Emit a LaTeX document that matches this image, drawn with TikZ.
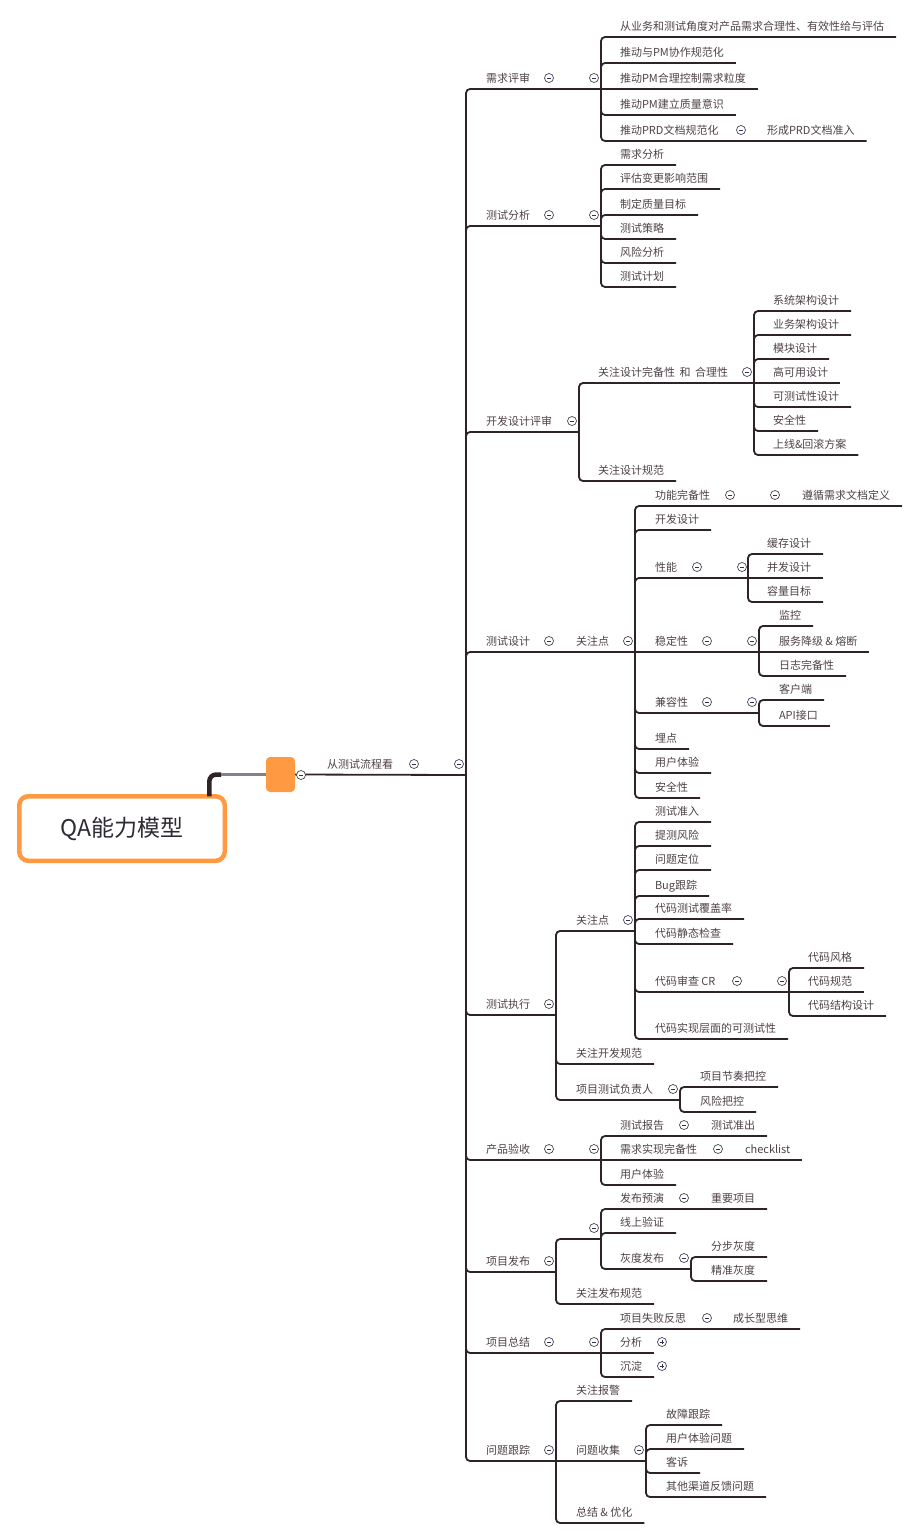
\documentclass[tikz,border=0pt]{standalone}
\usepackage{fontspec}
\setmainfont{Noto Sans CJK SC}
\definecolor{mmorange}{HTML}{FF9A42}
\definecolor{mmline}{HTML}{2E2329}
\definecolor{mmtext}{HTML}{4E4148}
\definecolor{mmtitle}{HTML}{2F2A33}
\definecolor{mmgrey}{HTML}{85808A}
\definecolor{mmfold}{HTML}{4A4450}
\definecolor{mmsign}{HTML}{2C3160}
\tikzset{
  topic/.style={anchor=south west, xshift=-12pt, inner xsep=12pt, inner ysep=0pt, outer sep=0pt,
    text height=15.2pt, text depth=6.8pt, text=mmtext, font=\fontsize{11}{13}\selectfont},
  link/.style={draw=mmline, line width=1.8pt, rounded corners=4pt},
  fold/.style={circle, draw=mmfold, line width=0.7pt, fill=white, minimum size=9pt, inner sep=0pt,
    path picture={\draw[mmsign, line width=0.8pt] ([xshift=-2.2pt]path picture bounding box.center)
      -- ([xshift=2.2pt]path picture bounding box.center);}},
  unfold/.style={circle, draw=mmfold, line width=0.7pt, fill=white, minimum size=9pt, inner sep=0pt,
    path picture={\draw[mmsign, line width=0.8pt] ([xshift=-2.2pt]path picture bounding box.center)
      -- ([xshift=2.2pt]path picture bounding box.center)
      ([yshift=-2.2pt]path picture bounding box.center) -- ([yshift=2.2pt]path picture bounding box.center);}},
  rootbox/.style={draw=mmorange, line width=4.5pt, rounded corners=9pt, fill=white, outer sep=0pt,
    minimum width=205.5pt, minimum height=64.5pt, text=mmtitle, font=\fontsize{23}{27}\selectfont},
  hub/.style={fill=mmorange, rounded corners=4pt, minimum width=29pt, minimum height=35pt, inner sep=0pt, outer sep=0pt}
}

\begin{document}
\begin{tikzpicture}[x=1pt, y=-1pt]
  \useasboundingbox (0,0) rectangle (920,1539);

  \node[rootbox] (root) at (122,828.5) {QA能力模型};
  \node[hub] (hub) at (280.5,774.5) {};
  \coordinate (bend) at (221,774.5);
  \draw[line width=4.5pt, mmline, rounded corners=7pt] ([xshift=-15.5pt]root.north east) |- (bend);
  \draw[line width=2.2pt, mmgrey] (bend) -- (hub.west);
  \node[topic] (flow) at (327,775) {从测试流程看};
  \coordinate (j0) at (466,775);
  \draw[link] (hub.east) -- (j0);
  \node[fold] (hub-f) at (301,775) {};
  \node[fold] (flow-f1) at (414,764) {};
  \node[fold] (flow-f2) at (459,764) {};

  \node[topic] (req) at (486,89) {需求评审};
  \node[topic] (ana) at (486,226) {测试分析};
  \node[topic] (dev) at (486,432) {开发设计评审};
  \node[topic] (tdes) at (486,652) {测试设计};
  \node[topic] (exec) at (486,1015) {测试执行};
  \node[topic] (acc) at (486,1160) {产品验收};
  \node[topic] (rel) at (486,1272) {项目发布};
  \node[topic] (sum) at (486,1353) {项目总结};
  \node[topic] (trk) at (486,1461) {问题跟踪};
  \coordinate (jreq) at (601,89);
  \coordinate (jana) at (601,226);
  \coordinate (jdev) at (579,432);
  \coordinate (jtdes) at (556,652);
  \coordinate (jexec) at (556,1015);
  \coordinate (jacc) at (601,1160);
  \coordinate (jrel) at (556,1272);
  \coordinate (jsum) at (601,1353);
  \coordinate (jtrk) at (556,1461);
  \draw[link] (j0) |- (jreq);
  \draw[link] (j0) |- (jana);
  \draw[link] (j0) |- (jdev);
  \draw[link] (j0) |- (jtdes);
  \draw[link] (j0) |- (jexec);
  \draw[link] (j0) |- (jacc);
  \draw[link] (j0) |- (jrel);
  \draw[link] (j0) |- (jsum);
  \draw[link] (j0) |- (jtrk);

  % 需求评审
  \node[topic] (req1) at (620,37) {从业务和测试角度对产品需求合理性、有效性给与评估};
  \node[topic] (req2) at (620,63) {推动与PM协作规范化};
  \node[topic] (req3) at (620,89) {推动PM合理控制需求粒度};
  \node[topic] (req4) at (620,115) {推动PM建立质量意识};
  \node[topic] (req5) at (620,141) {推动PRD文档规范化};
  \node[topic] (req51) at (767,141) {形成PRD文档准入};
  \coordinate (jreq5) at (747,141);
  \draw[link] (jreq) |- (req1.south east);
  \draw[link] (jreq) |- (req2.south east);
  \draw[link] (jreq) -- (req3.south east);
  \draw[link] (jreq) |- (req4.south east);
  \draw[link] (jreq) |- (jreq5) -- (req51.south east);
  \node[fold] (req-f1) at (549,78) {};
  \node[fold] (req-f2) at (594,78) {};
  \node[fold] (req5-f) at (741,130) {};

  % 测试分析
  \node[topic] (ana1) at (620,165) {需求分析};
  \node[topic] (ana2) at (620,189) {评估变更影响范围};
  \node[topic] (ana3) at (620,215) {制定质量目标};
  \node[topic] (ana4) at (620,239) {测试策略};
  \node[topic] (ana5) at (620,263) {风险分析};
  \node[topic] (ana6) at (620,287) {测试计划};
  \draw[link] (jana) |- (ana1.south east);
  \draw[link] (jana) |- (ana2.south east);
  \draw[link] (jana) |- (ana3.south east);
  \draw[link] (jana) |- (ana4.south east);
  \draw[link] (jana) |- (ana5.south east);
  \draw[link] (jana) |- (ana6.south east);
  \node[fold] (ana-f1) at (549,215) {};
  \node[fold] (ana-f2) at (594,215) {};

  % 开发设计评审
  \node[topic] (dev1) at (598,383) {关注设计完备性\hspace{4.5pt}和\hspace{4.5pt}合理性};
  \node[topic] (dev2) at (598,481) {关注设计规范};
  \coordinate (jdev1) at (754,383);
  \node[topic] (dev11) at (773,311) {系统架构设计};
  \node[topic] (dev12) at (773,335) {业务架构设计};
  \node[topic] (dev13) at (773,359) {模块设计};
  \node[topic] (dev14) at (773,383) {高可用设计};
  \node[topic] (dev15) at (773,407) {可测试性设计};
  \node[topic] (dev16) at (773,431) {安全性};
  \node[topic] (dev17) at (773,455) {上线\&回滚方案};
  \draw[link] (jdev) |- (jdev1);
  \draw[link] (jdev) |- (dev2.south east);
  \draw[link] (jdev1) |- (dev11.south east);
  \draw[link] (jdev1) |- (dev12.south east);
  \draw[link] (jdev1) |- (dev13.south east);
  \draw[link] (jdev1) -- (dev14.south east);
  \draw[link] (jdev1) |- (dev15.south east);
  \draw[link] (jdev1) |- (dev16.south east);
  \draw[link] (jdev1) |- (dev17.south east);
  \node[fold] (dev-f) at (572,421) {};
  \node[fold] (dev1-f) at (747,372) {};

  % 测试设计
  \node[topic] (tfoc) at (576,652) {关注点};
  \coordinate (jtfoc) at (635,652);
  \node[topic] (t1) at (655,506) {功能完备性};
  \coordinate (jt1) at (782,506);
  \node[topic] (t11) at (802,506) {遵循需求文档定义};
  \node[topic] (t2) at (655,530) {开发设计};
  \node[topic] (t3) at (655,578) {性能};
  \coordinate (jt3) at (748,578);
  \node[topic] (t31) at (767,554) {缓存设计};
  \node[topic] (t32) at (767,578) {并发设计};
  \node[topic] (t33) at (767,602) {容量目标};
  \node[topic] (t4) at (655,652) {稳定性};
  \coordinate (jt4) at (759,652);
  \node[topic] (t41) at (779,626) {监控};
  \node[topic] (t42) at (779,652) {服务降级 \& 熔断};
  \node[topic] (t43) at (779,676) {日志完备性};
  \node[topic] (t5) at (655,713) {兼容性};
  \coordinate (jt5) at (759,713);
  \node[topic] (t51) at (779,700) {客户端};
  \node[topic] (t52) at (779,726) {API接口};
  \node[topic] (t6) at (655,749) {埋点};
  \node[topic] (t7) at (655,773) {用户体验};
  \node[topic] (t8) at (655,798) {安全性};
  \draw[link] (jtdes) -- (jtfoc);
  \draw[link] (jtfoc) |- (jt1) -- (t11.south east);
  \draw[link] (jtfoc) |- (t2.south east);
  \draw[link] (jtfoc) |- (jt3);
  \draw[link] (jt3) |- (t31.south east);
  \draw[link] (jt3) -- (t32.south east);
  \draw[link] (jt3) |- (t33.south east);
  \draw[link] (jtfoc) -- (jt4);
  \draw[link] (jt4) |- (t41.south east);
  \draw[link] (jt4) -- (t42.south east);
  \draw[link] (jt4) |- (t43.south east);
  \draw[link] (jtfoc) |- (jt5);
  \draw[link] (jt5) |- (t51.south east);
  \draw[link] (jt5) |- (t52.south east);
  \draw[link] (jtfoc) |- (t6.south east);
  \draw[link] (jtfoc) |- (t7.south east);
  \draw[link] (jtfoc) |- (t8.south east);
  \node[fold] (tdes-f) at (549,641) {};
  \node[fold] (tfoc-f) at (628,641) {};
  \node[fold] (t1-f1) at (730,495) {};
  \node[fold] (t1-f2) at (775,495) {};
  \node[fold] (t3-f1) at (697,567) {};
  \node[fold] (t3-f2) at (742,567) {};
  \node[fold] (t4-f1) at (707,641) {};
  \node[fold] (t4-f2) at (752,641) {};
  \node[fold] (t5-f1) at (707,702) {};
  \node[fold] (t5-f2) at (752,702) {};

  % 测试执行
  \node[topic] (e1) at (576,931) {关注点};
  \coordinate (je1) at (635,931);
  \node[topic] (e11) at (655,822) {测试准入};
  \node[topic] (e12) at (655,846) {提测风险};
  \node[topic] (e13) at (655,870) {问题定位};
  \node[topic] (e14) at (655,896) {Bug跟踪};
  \node[topic] (e15) at (655,919) {代码测试覆盖率};
  \node[topic] (e16) at (655,944) {代码静态检查};
  \node[topic] (e17) at (655,992) {代码审查 CR};
  \coordinate (je17) at (789,992);
  \node[topic] (e171) at (808,968) {代码风格};
  \node[topic] (e172) at (808,992) {代码规范};
  \node[topic] (e173) at (808,1016) {代码结构设计};
  \node[topic] (e18) at (655,1039) {代码实现层面的可测试性};
  \node[topic] (e2) at (576,1064) {关注开发规范};
  \node[topic] (e3) at (576,1100) {项目测试负责人};
  \coordinate (je3) at (680,1100);
  \node[topic] (e31) at (700,1087) {项目节奏把控};
  \node[topic] (e32) at (700,1112) {风险把控};
  \draw[link] (jexec) |- (je1);
  \draw[link] (jexec) |- (e2.south east);
  \draw[link] (jexec) |- (je3);
  \draw[link] (je1) |- (e11.south east);
  \draw[link] (je1) |- (e12.south east);
  \draw[link] (je1) |- (e13.south east);
  \draw[link] (je1) |- (e14.south east);
  \draw[link] (je1) |- (e15.south east);
  \draw[link] (je1) |- (e16.south east);
  \draw[link] (je1) |- (je17);
  \draw[link] (je1) |- (e18.south east);
  \draw[link] (je17) |- (e171.south east);
  \draw[link] (je17) -- (e172.south east);
  \draw[link] (je17) |- (e173.south east);
  \draw[link] (je3) |- (e31.south east);
  \draw[link] (je3) |- (e32.south east);
  \node[fold] (exec-f) at (549,1004) {};
  \node[fold] (e1-f) at (628,920) {};
  \node[fold] (e17-f1) at (737,981) {};
  \node[fold] (e17-f2) at (782,981) {};
  \node[fold] (e3-f) at (673,1089) {};

  % 产品验收
  \node[topic] (a1) at (620,1136) {测试报告};
  \coordinate (ja1) at (691,1136);
  \node[topic] (a11) at (711,1136) {测试准出};
  \node[topic] (a2) at (620,1160) {需求实现完备性};
  \coordinate (ja2) at (725,1160);
  \node[topic] (a21) at (745,1160) {checklist};
  \node[topic] (a3) at (620,1185) {用户体验};
  \draw[link] (jacc) |- (ja1) -- (a11.south east);
  \draw[link] (jacc) -- (ja2) -- (a21.south east);
  \draw[link] (jacc) |- (a3.south east);
  \node[fold] (acc-f1) at (549,1149) {};
  \node[fold] (acc-f2) at (594,1149) {};
  \node[fold] (a1-f) at (684,1125) {};
  \node[fold] (a2-f) at (718,1149) {};

  % 项目发布
  \coordinate (jr0) at (601,1239);
  \node[topic] (r1) at (620,1209) {发布预演};
  \coordinate (jr1) at (691,1209);
  \node[topic] (r11) at (711,1209) {重要项目};
  \node[topic] (r2) at (620,1233) {线上验证};
  \node[topic] (r3) at (620,1269) {灰度发布};
  \coordinate (jr3) at (691,1269);
  \node[topic] (r31) at (711,1257) {分步灰度};
  \node[topic] (r32) at (711,1281) {精准灰度};
  \node[topic] (r4) at (576,1304) {关注发布规范};
  \draw[link] (jrel) |- (jr0);
  \draw[link] (jrel) |- (r4.south east);
  \draw[link] (jr0) |- (jr1) -- (r11.south east);
  \draw[link] (jr0) |- (r2.south east);
  \draw[link] (jr0) |- (jr3);
  \draw[link] (jr3) |- (r31.south east);
  \draw[link] (jr3) |- (r32.south east);
  \node[fold] (rel-f) at (549,1261) {};
  \node[fold] (r0-f) at (594,1228) {};
  \node[fold] (r1-f) at (684,1198) {};
  \node[fold] (r3-f) at (684,1258) {};

  % 项目总结
  \node[topic] (s1) at (620,1329) {项目失败反思};
  \coordinate (js1) at (713,1329);
  \node[topic] (s11) at (733,1329) {成长型思维};
  \node[topic] (s2) at (620,1353) {分析};
  \node[topic] (s3) at (620,1377) {沉淀};
  \draw[link] (jsum) |- (js1) -- (s11.south east);
  \draw[link] (jsum) -- (s2.south east);
  \draw[link] (jsum) |- (s3.south east);
  \node[fold] (sum-f1) at (549,1342) {};
  \node[fold] (sum-f2) at (594,1342) {};
  \node[fold] (s1-f) at (707,1318) {};
  \node[unfold] (s2-f) at (662,1342) {};
  \node[unfold] (s3-f) at (662,1366) {};

  % 问题跟踪
  \node[topic] (k1) at (576,1401) {关注报警};
  \node[topic] (k2) at (576,1461) {问题收集};
  \coordinate (jk2) at (646,1461);
  \node[topic] (k21) at (666,1425) {故障跟踪};
  \node[topic] (k22) at (666,1449) {用户体验问题};
  \node[topic] (k23) at (666,1473) {客诉};
  \node[topic] (k24) at (666,1497) {其他渠道反馈问题};
  \node[topic] (k3) at (576,1523) {总结 \& 优化};
  \draw[link] (jtrk) |- (k1.south east);
  \draw[link] (jtrk) -- (jk2);
  \draw[link] (jtrk) |- (k3.south east);
  \draw[link] (jk2) |- (k21.south east);
  \draw[link] (jk2) |- (k22.south east);
  \draw[link] (jk2) |- (k23.south east);
  \draw[link] (jk2) |- (k24.south east);
  \node[fold] (trk-f) at (549,1450) {};
  \node[fold] (k2-f) at (639,1450) {};
\end{tikzpicture}
\end{document}
